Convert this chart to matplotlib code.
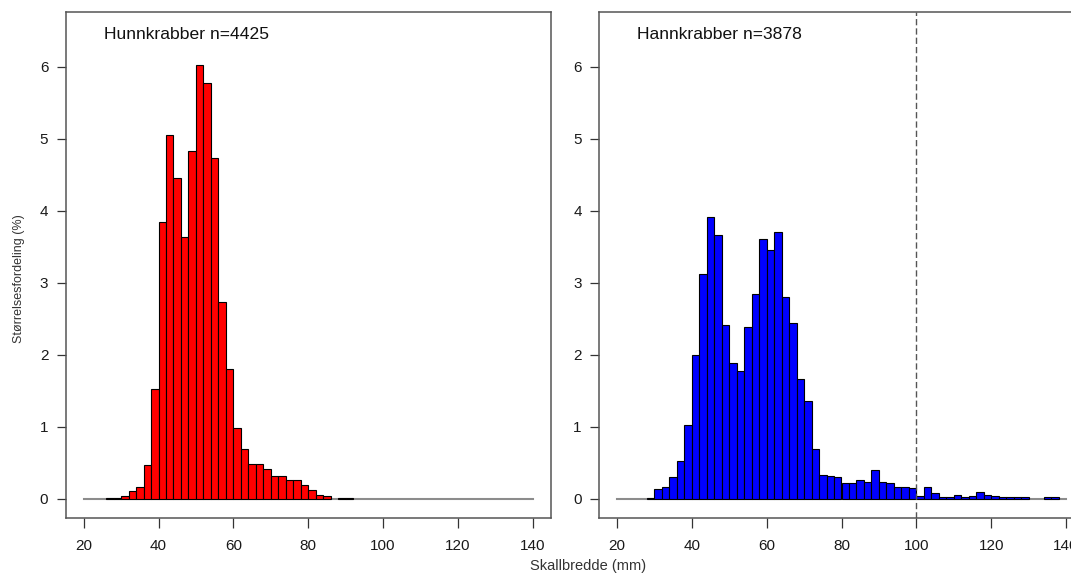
import matplotlib
matplotlib.use('Agg')
import matplotlib.pyplot as plt
import numpy as np

plt.rcParams['font.family'] = ['Liberation Sans', 'DejaVu Sans']

# size distribution (% of crabs) in 2 mm carapace width classes
female_start = 26
female_pct = [0.02, 0.02, 0.04, 0.11, 0.16, 0.47, 1.53, 3.85, 5.05, 4.46,
              3.64, 4.83, 6.03, 5.78, 4.73, 2.74, 1.80, 0.99, 0.69, 0.49,
              0.48, 0.42, 0.32, 0.32, 0.26, 0.27, 0.19, 0.12, 0.055, 0.046,
              0.0, 0.02, 0.02]

male_start = 28
male_pct = [0.02, 0.14, 0.16, 0.31, 0.53, 1.02, 2.00, 3.12, 3.92, 3.67,
            2.41, 1.89, 1.78, 2.39, 2.84, 3.61, 3.46, 3.70, 2.81, 2.44,
            1.67, 1.36, 0.70, 0.33, 0.32, 0.30, 0.22, 0.22, 0.26, 0.23,
            0.40, 0.24, 0.22, 0.16, 0.17, 0.15, 0.04, 0.16, 0.08, 0.026,
            0.026, 0.05, 0.026, 0.04, 0.09, 0.05, 0.04, 0.03, 0.03, 0.026,
            0.03, 0.0, 0.0, 0.03, 0.026]

bin_width = 2
titles = ['Hunnkrabber n=4425', 'Hannkrabber n=3878']
colors = ['#ff0000', '#0000ff']
x_ticks = [20, 40, 60, 80, 100, 120, 140]
y_ticks = [0, 1, 2, 3, 4, 5, 6]
legal_size = 100

W, H = 1071, 574
fig = plt.figure(figsize=(W / 100, H / 100), dpi=100)

# axes boxes in pixels (left, top, width, height); right panel runs past the edge
boxes = [(65.7, 12, 485, 505.7), (599, 12, 485, 505.7)]

panels = [(female_start, female_pct), (male_start, male_pct)]
for i, ((start, pct), (l, t, w, h)) in enumerate(zip(panels, boxes)):
    ax = fig.add_axes([l / W, 1 - (t + h) / H, w / W, h / H])
    pct = np.array(pct)
    edges = start + bin_width * np.arange(len(pct))
    keep = pct > 0
    ax.plot([20, 140], [0, 0], color='#8c8c8c', lw=1.5, zorder=1)
    ax.bar(edges[keep], pct[keep], width=bin_width, align='edge',
           color=colors[i], edgecolor='black', linewidth=0.8, zorder=2)
    if i == 1:
        ax.axvline(legal_size, color='#555555', lw=1.0,
                   linestyle=(0, (4.5, 2.2)), zorder=3)
    ax.set_xlim(15.2, 144.8)
    ax.set_ylim(-0.26, 6.76)
    ax.set_xticks(x_ticks)
    ax.set_yticks(y_ticks)
    ax.tick_params(axis='x', direction='out', length=7, width=0.9,
                   pad=8, labelsize=11, colors='#333333', labelcolor='#1a1a1a')
    ax.tick_params(axis='y', direction='out', length=6.5, width=0.9,
                   pad=6, labelsize=11, colors='#333333', labelcolor='#1a1a1a')
    for s in ax.spines.values():
        s.set_color('#555555')
        s.set_linewidth(1.1)
    ax.text(0.079, 0.955, titles[i], transform=ax.transAxes,
            ha='left', va='center', fontsize=12.6, color='#111111')

fig.text(19 / W, 1 - 279 / H, 'Størrelsesfordeling (%)', rotation=90,
         ha='center', va='center', fontsize=9, color='#333333')
fig.text(588 / W, 1 - 566 / H, 'Skallbredde (mm)',
         ha='center', va='center', fontsize=10.5, color='#333333')

fig.savefig('out.png', dpi=100)
